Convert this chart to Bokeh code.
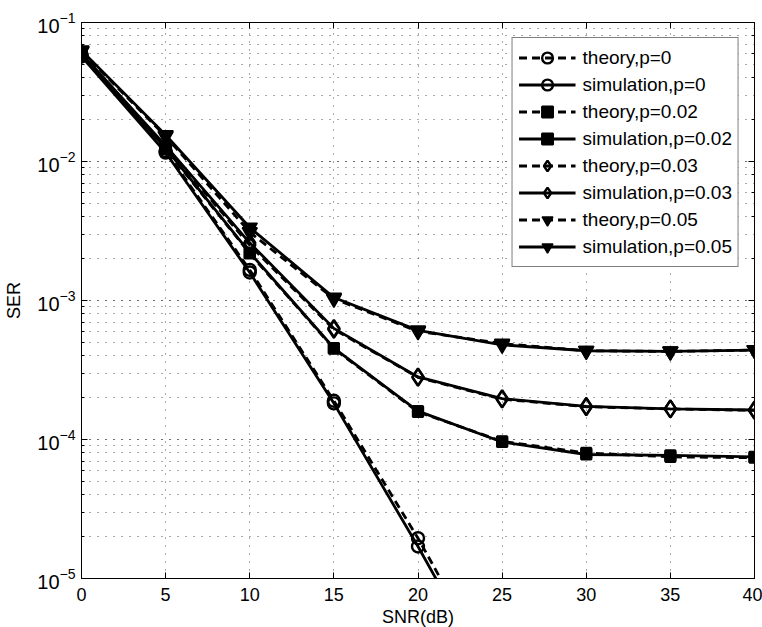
from bokeh.plotting import figure
from bokeh.models import (LogAxis, LinearAxis, SingleIntervalTicker, LogTicker, Range1d)
from bokeh.embed import file_html
from bokeh.resources import INLINE

snr = [0, 5, 10, 15, 20, 25, 30, 35, 40]
snr_p0 = [0, 5, 10, 15, 20, 25]

theory_p0 = [0.058, 0.0119, 0.00166, 1.9e-4, 1.95e-5, 1.6e-6]
sim_p0 = [0.057, 0.0116, 0.00159, 1.82e-4, 1.7e-5, 1.4e-6]
theory_p002 = [0.058, 0.0123, 0.00218, 4.5e-4, 1.58e-4, 9.7e-5, 8.0e-5, 7.5e-5, 7.4e-5]
sim_p002 = [0.059, 0.0125, 0.00221, 4.55e-4, 1.6e-4, 9.6e-5, 7.8e-5, 7.7e-5, 7.5e-5]
theory_p003 = [0.059, 0.0128, 0.0025, 6.2e-4, 2.8e-4, 1.95e-4, 1.72e-4, 1.66e-4, 1.62e-4]
sim_p003 = [0.060, 0.013, 0.0026, 6.3e-4, 2.82e-4, 1.97e-4, 1.73e-4, 1.66e-4, 1.63e-4]
theory_p005 = [0.062, 0.0152, 0.0031, 1.03e-3, 6.0e-4, 4.9e-4, 4.35e-4, 4.3e-4, 4.4e-4]
sim_p005 = [0.063, 0.0155, 0.00335, 1.05e-3, 6.1e-4, 4.8e-4, 4.35e-4, 4.3e-4, 4.4e-4]

x_ticks_interval = 5
x_label = "SNR(dB)"
y_label = "SER"

FONT = "Liberation Sans"

p = figure(width=762, height=627, y_axis_type="log", output_backend="svg",
           toolbar_location=None, x_range=Range1d(0, 40), y_range=Range1d(1e-5, 1e-1),
           min_border_left=81, min_border_right=8, min_border_top=22, min_border_bottom=49)
p.frame_width = 673
p.frame_height = 556

p.outline_line_color = "black"
p.outline_line_width = 1

# axes styling
for ax in [p.xaxis[0], p.yaxis[0]]:
    ax.major_tick_in = 6
    ax.major_tick_out = 0
    ax.minor_tick_in = 3
    ax.minor_tick_out = 0
    ax.axis_line_color = "black"
    ax.major_tick_line_color = "black"
    ax.minor_tick_line_color = "black"
    ax.major_label_text_font = FONT
    ax.major_label_text_color = "black"
    ax.axis_label_text_font = FONT
    ax.axis_label_text_font_size = "18px"
    ax.axis_label_text_font_style = "normal"
    ax.axis_label_text_color = "black"

p.xaxis[0].major_label_text_font_size = "18px"
p.yaxis[0].major_label_text_font_size = "20px"
p.xaxis[0].ticker = SingleIntervalTicker(interval=x_ticks_interval, num_minor_ticks=0)
p.xaxis[0].axis_label = x_label
p.xaxis[0].axis_label_standoff = 3
p.xaxis[0].major_label_standoff = 9
p.yaxis[0].axis_label = y_label
p.yaxis[0].axis_label_standoff = 10
p.yaxis[0].major_label_standoff = 6

top_ax = LinearAxis(ticker=SingleIntervalTicker(interval=x_ticks_interval, num_minor_ticks=0),
                    major_tick_in=6, major_tick_out=0, major_label_text_font_size="6px",
                    major_label_text_alpha=0, major_label_standoff=0, axis_line_color="black")
right_ax = LogAxis(ticker=LogTicker(), major_tick_in=6, major_tick_out=0, minor_tick_in=3,
                   minor_tick_out=0, major_label_text_font_size="6px", major_label_text_alpha=0,
                   major_label_standoff=0, axis_line_color="black")
p.add_layout(top_ax, "above")
p.add_layout(right_ax, "right")

# grid
for g in [p.xgrid[0], p.ygrid[0]]:
    g.grid_line_color = "#555555"
    g.grid_line_dash = "1 7"
    g.grid_line_width = 1
p.ygrid[0].minor_grid_line_color = "#555555"
p.ygrid[0].minor_grid_line_dash = "1 7"
p.ygrid[0].minor_grid_line_width = 1

LW = 2.8
series = [
    ("theory,p=0", snr_p0, theory_p0, "dashed", "circle"),
    ("simulation,p=0", snr_p0, sim_p0, "solid", "circle"),
    ("theory,p=0.02", snr, theory_p002, "dashed", "square"),
    ("simulation,p=0.02", snr, sim_p002, "solid", "square"),
    ("theory,p=0.03", snr, theory_p003, "dashed", "diamond"),
    ("simulation,p=0.03", snr, sim_p003, "solid", "diamond"),
    ("theory,p=0.05", snr, theory_p005, "dashed", "inverted_triangle"),
    ("simulation,p=0.05", snr, sim_p005, "solid", "inverted_triangle"),
]

for label, xs, ys, style, marker in series:
    dash = "8 5" if style == "dashed" else "solid"
    p.line(xs, ys, line_color="black", line_width=LW, line_dash=dash, legend_label=label)
    if marker == "circle":
        p.scatter(xs, ys, marker="circle", size=12, line_color="black", line_width=2.4,
                  fill_alpha=0, legend_label=label)
    elif marker == "square":
        p.scatter(xs, ys, marker="square", size=10, line_color="black", line_width=2.2,
                  fill_color="black", legend_label=label)
    elif marker == "diamond":
        p.scatter(xs, ys, marker="diamond", size=17, line_color="black", line_width=2.4,
                  fill_alpha=0, legend_label=label)
    else:
        p.scatter(xs, ys, marker="inverted_triangle", size=15, line_color="black", line_width=1.5,
                  fill_color="black", legend_label=label)

lg = p.legend[0]
lg.location = "top_right"
lg.margin = 15
lg.padding = 6
lg.spacing = 0
lg.glyph_width = 57
lg.glyph_height = 27
lg.label_height = 20
lg.label_standoff = 7
lg.label_text_font = FONT
lg.label_text_font_size = "19px"
lg.label_text_color = "black"
lg.border_line_color = "black"
lg.border_line_width = 1
lg.background_fill_color = "white"
lg.background_fill_alpha = 1

open("out.html", "w").write(file_html(p, INLINE))
